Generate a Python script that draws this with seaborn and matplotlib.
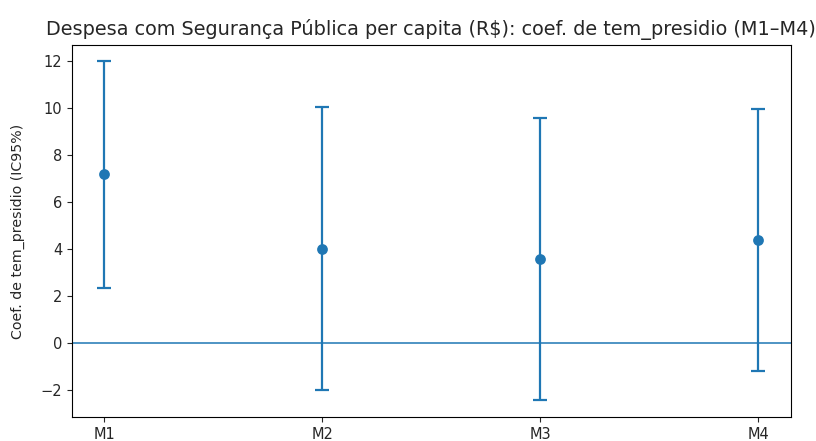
import pandas as pd
import matplotlib.pyplot as plt
import seaborn as sns

# Coeficientes de tem_presidio e IC95% por modelo
modelos = ['M1', 'M2', 'M3', 'M4']
coef = [7.21, 4.03, 3.60, 4.41]
ic_inf = [2.37, -1.99, -2.43, -1.20]
ic_sup = [12.00, 10.05, 9.58, 9.96]

df = pd.DataFrame({'modelo': modelos, 'coef': coef, 'ic_inf': ic_inf, 'ic_sup': ic_sup})

sns.set_style("white")
plt.rcParams['font.family'] = ['DejaVu Sans']

fig = plt.figure(figsize=(8.16, 4.41), dpi=100)
ax = fig.add_axes([0.088, 0.054, 0.881, 0.844])

yerr = [df['coef'] - df['ic_inf'], df['ic_sup'] - df['coef']]
ax.errorbar(df['modelo'], df['coef'], yerr=yerr, fmt='none', ecolor='#1f77b4',
            elinewidth=1.6, capsize=5, capthick=1.6)
sns.scatterplot(data=df, x='modelo', y='coef', ax=ax, color='#1f77b4', s=60,
                linewidth=0, zorder=3)
ax.axhline(0, color='#1f77b4', linewidth=1.3, alpha=0.85)

ax.set_title('Despesa com Segurança Pública per capita (R$): coef. de tem_presidio (M1–M4)',
             fontsize=13.9, pad=7)
ax.set_xlabel('')
ax.set_ylabel('Coef. de tem_presidio (IC95%)', fontsize=10.2, labelpad=11)
ax.set_xlim(-0.15, 3.15)
ax.set_ylim(-3.15, 12.7)
ax.set_yticks([-2, 0, 2, 4, 6, 8, 10, 12])
ax.tick_params(axis='both', which='both', left=True, bottom=True, length=3.5, width=0.8,
               labelsize=10.5)
for sp in ax.spines.values():
    sp.set_color('black')
    sp.set_linewidth(0.8)

plt.savefig('out.png', dpi=100)
